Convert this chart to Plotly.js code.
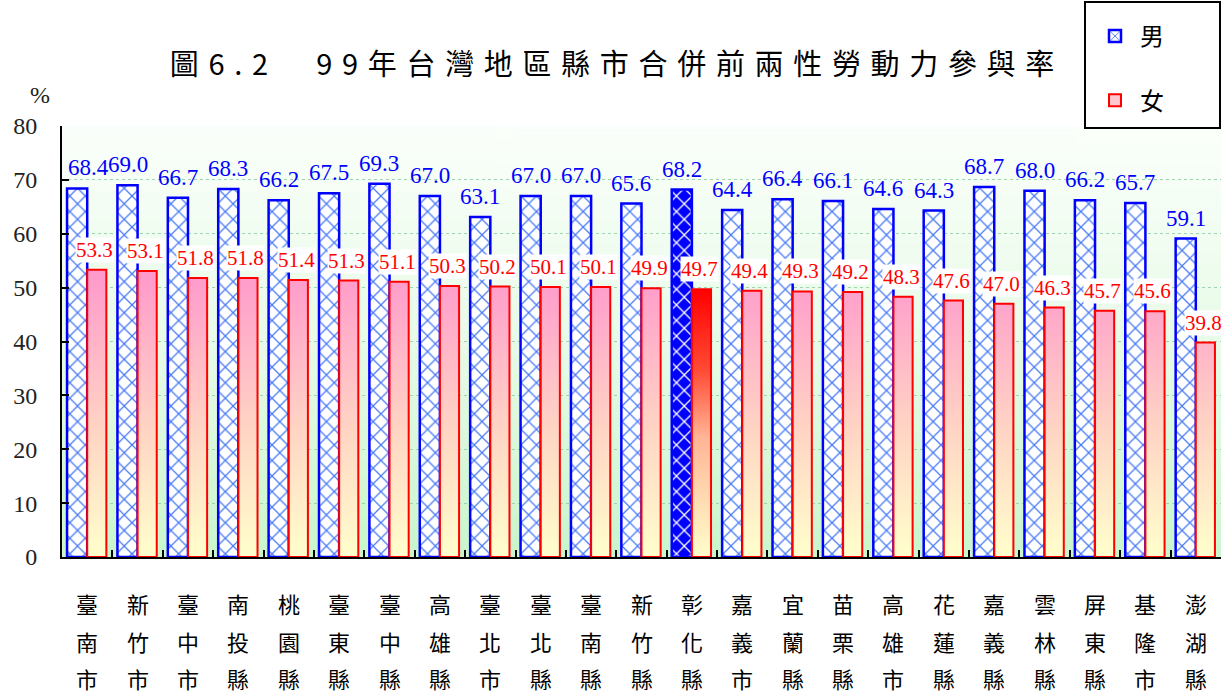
<!DOCTYPE html>
<html>
<head>
<meta charset="utf-8">
<script src="https://cdn.plot.ly/plotly-3.0.1.min.js"></script>
<style>html,body{margin:0;padding:0;background:#fff;}#chart{width:1224px;height:693px;}</style>
</head>
<body>
<div id="chart"></div>
<script>
// ---- data ----
const categories = ['臺南市','新竹市','臺中市','南投縣','桃園縣','臺東縣','臺中縣','高雄縣','臺北市','臺北縣','臺南縣','新竹縣','彰化縣','嘉義市','宜蘭縣','苗栗縣','高雄市','花蓮縣','嘉義縣','雲林縣','屏東縣','基隆市','澎湖縣'];
const maleValues   = [68.4,69.0,66.7,68.3,66.2,67.5,69.3,67.0,63.1,67.0,67.0,65.6,68.2,64.4,66.4,66.1,64.6,64.3,68.7,68.0,66.2,65.7,59.1];
const femaleValues = [53.3,53.1,51.8,51.8,51.4,51.3,51.1,50.3,50.2,50.1,50.1,49.9,49.7,49.4,49.3,49.2,48.3,47.6,47.0,46.3,45.7,45.6,39.8];
const seriesNames = ['男','女'];
const highlightCategory = '彰化縣';
const yTicks = [0,10,20,30,40,50,60,70,80];
const titleText = '圖6.2　99年台灣地區縣市合併前兩性勞動力參與率';
const unitLabel = '%';

// ---- layout constants ----
const W = 1224, H = 693;
const ML = 62, MR = 3, MT = 126, MB = 136;
const plotH = H - MT - MB, plotW = W - ML - MR;
const MALE_W = 0.40, FEMALE_W = 0.38;
const numFont = 'Liberation Serif, Times New Roman, serif';
const cjkFont = 'Noto Sans CJK TC, Noto Sans CJK SC, sans-serif';
const hi = categories.indexOf(highlightCategory);
const idx = categories.map((_, i) => i);
const normIdx = idx.filter(i => i !== hi);
const px2x = p => (p - ML) / plotW;
const px2y = p => (H - MB - p) / plotH;

// background gradient image
const cv = document.createElement('canvas');
cv.width = 4; cv.height = 256;
const cx = cv.getContext('2d');
const g = cx.createLinearGradient(0, 0, 0, 256);
g.addColorStop(0, '#fbfffb');
g.addColorStop(0.5, '#e8fbe8');
g.addColorStop(1, '#c9f6cc');
cx.fillStyle = g; cx.fillRect(0, 0, 4, 256);
const bgURL = cv.toDataURL('image/png');

// male bars
const maleTrace = {
  type: 'bar', name: seriesNames[0], x: normIdx, y: normIdx.map(i => maleValues[i]),
  width: MALE_W, offset: -MALE_W,
  marker: {
    color: '#ffffff',
    line: {color: '#0000ff', width: 2.5},
    pattern: {shape: 'x', size: 11, solidity: 0.22,
      fgcolor: '#4a7cf5', bgcolor: '#ffffff', fillmode: 'replace'}
  },
  hoverinfo: 'skip', legendgroup: 'm'
};
const maleHiTrace = {
  type: 'bar', name: seriesNames[0], x: [hi], y: [maleValues[hi]],
  width: MALE_W, offset: -MALE_W, showlegend: false,
  marker: {
    color: '#0000ff',
    line: {color: '#0000ff', width: 2.5},
    pattern: {shape: 'x', size: 11, solidity: 0.22,
      fgcolor: '#ffffff', bgcolor: '#0000ff', fillmode: 'replace'}
  },
  hoverinfo: 'skip'
};

function femalePoly(list) {
  const xs = [], ys = [];
  list.forEach(i => {
    xs.push(i, i + FEMALE_W, i + FEMALE_W, i, i, null);
    ys.push(0, 0, femaleValues[i], femaleValues[i], 0, null);
  });
  return {xs, ys};
}
const fp = femalePoly(normIdx);
const femaleTrace = {
  type: 'scatter', mode: 'lines', name: seriesNames[1], x: fp.xs, y: fp.ys,
  fill: 'toself', line: {color: '#ff0000', width: 2}, connectgaps: false,
  fillgradient: {type: 'vertical', start: 0, stop: 53,
    colorscale: [[0, '#ffffcc'], [0.45, '#ffd4c4'], [1, '#ff99cc']]},
  hoverinfo: 'skip', showlegend: false
};
const hp = femalePoly([hi]);
const femaleHiTrace = {
  type: 'scatter', mode: 'lines', name: seriesNames[1], x: hp.xs, y: hp.ys,
  fill: 'toself', line: {color: '#ff0000', width: 2}, showlegend: false,
  fillgradient: {type: 'vertical', start: 0, stop: 49.7,
    colorscale: [[0, '#ffffcc'], [0.45, '#ffb494'], [0.7, '#ff4a34'], [1, '#ff0000']]},
  hoverinfo: 'skip'
};
// legend swatch for the female series
const femaleLegend = {
  type: 'bar', name: seriesNames[1], x: [null], y: [null],
  marker: {color: '#ffc8d0', line: {color: '#ff0000', width: 2}},
  legendgroup: 'f', hoverinfo: 'skip'
};

const annotations = [];
const rowsPx = [603, 641, 678];
idx.forEach(i => {
  annotations.push({
    x: i - MALE_W / 2, y: maleValues[i], xref: 'x', yref: 'y',
    text: maleValues[i].toFixed(1), showarrow: false, yanchor: 'bottom',
    yshift: 6, xshift: i === 0 ? 11 : 0,
    font: {family: numFont, size: 23, color: '#0000ff'}
  });
  annotations.push({
    x: i + FEMALE_W / 2, y: femaleValues[i], xref: 'x', yref: 'y',
    text: femaleValues[i].toFixed(1), showarrow: false, yanchor: 'bottom',
    yshift: 7, xshift: -2, bgcolor: '#ffffff', borderpad: 0,
    font: {family: numFont, size: 21, color: '#ff0000'}
  });
  Array.from(categories[i]).forEach((ch, r) => {
    annotations.push({
      x: i, xref: 'x', yref: 'paper', y: px2y(rowsPx[r]),
      yanchor: 'middle', text: ch, showarrow: false,
      font: {family: cjkFont, size: 22, color: '#000'}
    });
  });
});
annotations.push({
  xref: 'paper', yref: 'paper', x: px2x(40), y: px2y(95),
  text: unitLabel, showarrow: false, xanchor: 'center', yanchor: 'middle',
  font: {family: numFont, size: 24, color: '#222'}
});

const boundaries = [];
for (let i = -1; i < categories.length; i++) boundaries.push(i + 0.5);

const layout = {
  width: W, height: H,
  margin: {l: ML, r: MR, t: MT, b: MB, pad: 0},
  paper_bgcolor: '#ffffff', plot_bgcolor: 'rgba(0,0,0,0)',
  showlegend: true,
  title: {
    text: Array.from(titleText).join('\u2004'),
    font: {family: cjkFont, size: 29, color: '#000'},
    x: 0.5, xref: 'container', xanchor: 'center',
    y: 1 - 65 / H, yref: 'container', yanchor: 'middle'
  },
  xaxis: {
    type: 'linear', range: [-0.5, categories.length - 0.5],
    tickmode: 'array', tickvals: boundaries, showticklabels: false,
    ticks: 'inside', ticklen: 7, tickwidth: 2, tickcolor: '#000',
    showline: true, linecolor: '#000', linewidth: 2, showgrid: false, zeroline: false,
    fixedrange: true
  },
  yaxis: {
    range: [0, 80], tickmode: 'array', tickvals: yTicks, ticktext: yTicks.map(String),
    ticks: 'inside', ticklen: 7, tickwidth: 2, tickcolor: '#000',
    ticklabelstandoff: 18,
    tickfont: {family: numFont, size: 24, color: '#222'},
    showline: true, linecolor: '#000', linewidth: 2,
    showgrid: true, gridcolor: '#9fd4b0', griddash: 'dot', gridwidth: 1,
    zeroline: false, fixedrange: true
  },
  legend: {
    x: px2x(1090), xanchor: 'left',
    y: px2y(14), yanchor: 'top',
    bgcolor: 'rgba(0,0,0,0)', borderwidth: 0,
    font: {family: cjkFont, size: 24, color: '#000'},
    tracegroupgap: 30, itemwidth: 40, traceorder: 'grouped'
  },
  shapes: [{
    type: 'rect', xref: 'paper', yref: 'paper', layer: 'above',
    x0: px2x(1085), x1: px2x(1220), y0: px2y(128), y1: px2y(2),
    line: {color: '#000', width: 2}, fillcolor: '#ffffff'
  }],
  images: [{
    source: bgURL, xref: 'x', yref: 'y', x: -0.5, y: 80,
    sizex: categories.length, sizey: 80, sizing: 'stretch', layer: 'below'
  }],
  annotations: annotations,
  bargap: 0, barmode: 'overlay'
};

Plotly.newPlot('chart', [maleTrace, maleHiTrace, femaleTrace, femaleHiTrace, femaleLegend], layout, {displayModeBar: false, staticPlot: true});
</script>
</body>
</html>
